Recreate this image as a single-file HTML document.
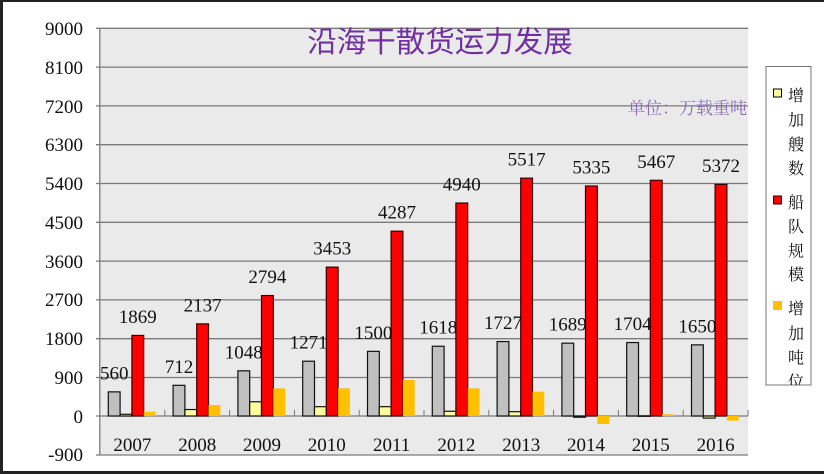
<!DOCTYPE html>
<html><head><meta charset="utf-8"><style>
html,body{margin:0;padding:0;background:#fff;}
svg{display:block;}
</style></head><body>
<svg width="824" height="475" viewBox="0 0 824 475" xmlns="http://www.w3.org/2000/svg">
<rect x="0" y="0" width="824" height="475" fill="#fff"/>
<!-- outer border -->
<line x1="0" y1="1" x2="824" y2="1" stroke="#222" stroke-width="2"/>
<line x1="1.5" y1="0" x2="1.5" y2="474" stroke="#222" stroke-width="3"/>
<line x1="0" y1="472.5" x2="824" y2="472.5" stroke="#222" stroke-width="3"/>
<!-- plot area -->
<rect x="100" y="28" width="648" height="427" fill="#EAEAEA"/>
<g stroke="#7a7a7a" stroke-width="1.3">
<line x1="96" y1="28.3" x2="748" y2="28.3"/>
<line x1="96" y1="67.1" x2="748" y2="67.1"/>
<line x1="96" y1="105.9" x2="748" y2="105.9"/>
<line x1="96" y1="144.7" x2="748" y2="144.7"/>
<line x1="96" y1="183.5" x2="748" y2="183.5"/>
<line x1="96" y1="222.3" x2="748" y2="222.3"/>
<line x1="96" y1="261.1" x2="748" y2="261.1"/>
<line x1="96" y1="299.9" x2="748" y2="299.9"/>
<line x1="96" y1="338.7" x2="748" y2="338.7"/>
<line x1="96" y1="377.5" x2="748" y2="377.5"/>
<line x1="96" y1="416" x2="748" y2="416"/>
<line x1="96" y1="455" x2="748" y2="455"/>
<line x1="99.8" y1="28" x2="99.8" y2="455"/>
</g>
<g stroke="#777" stroke-width="1">
<line x1="164.8" y1="410" x2="164.8" y2="416"/>
<line x1="229.6" y1="410" x2="229.6" y2="416"/>
<line x1="294.4" y1="410" x2="294.4" y2="416"/>
<line x1="359.2" y1="410" x2="359.2" y2="416"/>
<line x1="424" y1="410" x2="424" y2="416"/>
<line x1="488.8" y1="410" x2="488.8" y2="416"/>
<line x1="553.6" y1="410" x2="553.6" y2="416"/>
<line x1="618.4" y1="410" x2="618.4" y2="416"/>
<line x1="683.2" y1="410" x2="683.2" y2="416"/>
<line x1="748" y1="410" x2="748" y2="416"/>
</g>
<!-- y labels -->
<g font-family="Liberation Serif, serif" font-size="19" fill="#111" text-anchor="end">
<text x="83" y="35">9000</text>
<text x="83" y="74">8100</text>
<text x="83" y="113">7200</text>
<text x="83" y="151">6300</text>
<text x="83" y="190">5400</text>
<text x="83" y="229">4500</text>
<text x="83" y="268">3600</text>
<text x="83" y="306">2700</text>
<text x="83" y="345">1800</text>
<text x="83" y="384">900</text>
<text x="83" y="423">0</text>
<text x="83" y="461">-900</text>
</g>
<!-- x labels -->
<g font-family="Liberation Serif, serif" font-size="19" fill="#111" text-anchor="middle">
<text x="132.4" y="451">2007</text>
<text x="197.2" y="451">2008</text>
<text x="262" y="451">2009</text>
<text x="326.8" y="451">2010</text>
<text x="391.6" y="451">2011</text>
<text x="456.4" y="451">2012</text>
<text x="521.2" y="451">2013</text>
<text x="586" y="451">2014</text>
<text x="650.8" y="451">2015</text>
<text x="715.6" y="451">2016</text>
</g>
<g id="bars"></g>
<g id="labels" font-family="Liberation Serif, serif" font-size="19" fill="#111" text-anchor="middle"></g>
<!-- title -->
<text x="440" y="52" font-family="Liberation Sans, Noto Sans CJK SC, sans-serif" font-size="29.5" fill="#7030A0" text-anchor="middle">沿海干散货运力发展</text>
<text x="628" y="114" font-family="Liberation Serif, Noto Serif CJK SC, serif" font-size="17" fill="#8C6BB8">单位：万载重吨</text>
<!-- legend -->
<defs><clipPath id="lg"><rect x="766" y="66.5" width="45" height="318.5"/></clipPath></defs>
<rect x="766" y="66.5" width="45" height="318.5" fill="#fff" stroke="#777" stroke-width="1"/>
<g clip-path="url(#lg)" font-family="Liberation Serif, Noto Serif CJK SC, serif" font-size="16" fill="#111" text-anchor="middle">
<rect x="773.5" y="89" width="8" height="8" fill="#FFFF99" stroke="#000" stroke-width="1"/>
<rect x="773.5" y="196" width="8" height="8" fill="#FF0000" stroke="#300" stroke-width="1"/>
<rect x="773" y="301" width="9" height="9" fill="#FFC000"/>
<text x="796" y="101">增</text><text x="796" y="125.5">加</text><text x="796" y="150">艘</text><text x="796" y="174">数</text>
<text x="796" y="208">船</text><text x="796" y="232">队</text><text x="796" y="256.5">规</text><text x="796" y="280">模</text>
<text x="796" y="314">增</text><text x="796" y="339">加</text><text x="796" y="363">吨</text><text x="796" y="387">位</text>
</g>
<script>
(function(){
var NS="http://www.w3.org/2000/svg";
var grey=[560,712,1048,1271,1500,1618,1727,1689,1704,1650];
var yel=[40,150,330,216,216,110,100,-28,4,-48];
var red=[1869,2137,2794,3453,4287,4940,5517,5335,5467,5372];
var ora=[100,255,642,642,835,642,564,-185,40,-110];
function Y(v){return 416-v*388/9000;}
var g=document.getElementById('bars'),L=document.getElementById('labels');
function bar(x,v,fill,stroke){
 var r=document.createElementNS(NS,'rect');
 var y0=Y(0),y1=Y(v);
 r.setAttribute('x',x);r.setAttribute('width',11.8);
 r.setAttribute('y',Math.min(y0,y1));r.setAttribute('height',Math.max(Math.abs(y1-y0),0.5));
 r.setAttribute('fill',fill);
 if(stroke){r.setAttribute('stroke',stroke);r.setAttribute('stroke-width','1.2');}
 g.appendChild(r);
}
function lab(x,v){
 var t=document.createElementNS(NS,'text');
 t.setAttribute('x',x);t.setAttribute('y',Y(v)-12.5);t.textContent=v;L.appendChild(t);
}
for(var i=0;i<10;i++){
 var s=100+i*64.8+8.3;
 bar(s,grey[i],'#C0C0C0','#111');
 bar(s+11.8,yel[i],'#FFFF99','#111');
 bar(s+23.6,red[i],'#FF0000','#300');
 bar(s+35.4,ora[i],'#FFC000',null);
 lab(s+5.9,grey[i]);
 lab(s+29.5,red[i]);
}
})();
</script>
</svg>
</body></html>
